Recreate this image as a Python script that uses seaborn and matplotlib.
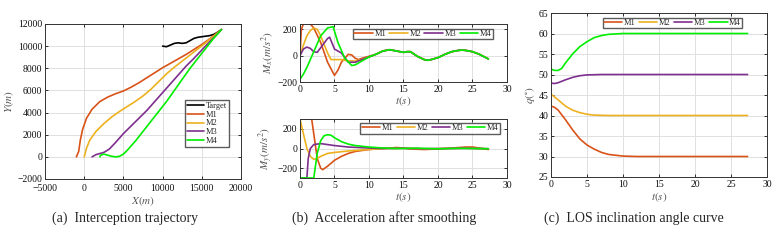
import numpy as np
import pandas as pd
import matplotlib.pyplot as plt
import seaborn as sns

# --- data ---
# (a) trajectories
tgt_x = [10000, 10500, 11000, 11500, 12000, 12500, 13000, 13500, 14000, 14500, 15000, 15500, 16000, 16500, 17000, 17500]
tgt_y = [10000, 9950, 10100, 10250, 10300, 10250, 10300, 10500, 10700, 10800, 10850, 10900, 10950, 11050, 11250, 11500]
m1_x = [-1000, -700, -500, -200, 300, 1000, 2000, 3000, 4000, 5000, 6000, 7000, 8000, 9000, 10000, 11000, 12000, 13000, 14000, 15000, 16000, 17000, 17500]
m1_y = [0, 500, 1500, 2500, 3500, 4300, 5000, 5400, 5700, 5950, 6300, 6700, 7150, 7600, 8050, 8450, 8850, 9250, 9700, 10150, 10650, 11200, 11500]
m2_x = [0, 300, 700, 1500, 2500, 3500, 4500, 5500, 6500, 7500, 8500, 9500, 10500, 11500, 12500, 13500, 14500, 15500, 16500, 17500]
m2_y = [0, 800, 1500, 2300, 3000, 3600, 4100, 4550, 5000, 5500, 6100, 6800, 7500, 8100, 8650, 9200, 9750, 10300, 10900, 11500]
m3_x = [1000, 1500, 2500, 3200, 4000, 5000, 6000, 7000, 8000, 9000, 10000, 11000, 12000, 13000, 14000, 15000, 16000, 17000, 17500]
m3_y = [0, 200, 400, 700, 1300, 2100, 2800, 3500, 4200, 5000, 5800, 6600, 7400, 8200, 8900, 9650, 10400, 11100, 11500]
m4_x = [2000, 2100, 2500, 3000, 3500, 4000, 4500, 5000, 5500, 6500, 7500, 8500, 9500, 10500, 11500, 12500, 13500, 14500, 15500, 16500, 17500]
m4_y = [0, 150, 250, 150, 50, 0, 50, 250, 600, 1400, 2300, 3200, 4100, 5000, 6000, 7000, 8000, 8900, 9800, 10700, 11500]

# (b) accelerations, shared tail after t = 10 s
tail_t = [11, 12, 13, 14, 15, 15.5, 16, 17, 18, 18.5, 19, 20, 21, 22, 23, 23.5, 24, 25, 26, 27.3]
tail_mx = [10, 35, 45, 35, 25, 30, 30, -5, -30, -35, -30, -15, 10, 30, 40, 42, 40, 30, 10, -25]
mx1_t = [0, 0.2, 0.5, 1, 1.5, 2, 3, 4, 5, 5.5, 6, 7, 7.5, 8, 8.5, 9, 10]
mx1 = [0, 200, 240, 250, 240, 210, 100, -50, -150, -110, -50, 10, 5, -20, -30, -20, -5]
mx2_t = [0, 0.5, 1, 1.5, 2, 2.5, 3, 4, 4.5, 5, 6, 7, 8, 9, 10]
mx2 = [0, 80, 150, 190, 210, 200, 150, 20, -30, -30, -30, -40, -40, -30, -10]
mx3_t = [0, 0.5, 1, 1.5, 2, 2.5, 3, 4, 4.3, 5, 6, 7, 8, 9, 10]
mx3 = [0, 50, 65, 55, 30, 25, 60, 130, 140, 50, 20, -50, -50, -30, -10]
mx4_t = [0, 0.5, 1, 2, 3, 4, 4.8, 5.5, 6.5, 7.5, 8, 9, 10]
mx4 = [-180, -140, -90, 30, 150, 210, 220, 100, -20, -75, -70, -40, -10]

my1_t = [0, 0.4, 1.7, 2.5, 3, 3.3, 4, 5, 6, 7, 8, 10, 12, 14, 15, 16, 18, 20, 22, 24, 25, 26, 27.3]
my1 = [400, 300, 300, -100, -200, -215, -180, -120, -80, -50, -30, -10, 0, 10, 5, -5, -10, -5, 5, 15, 15, 5, -10]
my2_t = [0, 0.5, 1, 1.5, 2, 2.5, 3, 4, 5, 7, 10, 12, 15, 18, 21, 24, 27.3]
my2 = [300, 150, 0, -80, -110, -100, -80, -50, -40, -25, -10, 0, 3, -3, 0, 3, -3]
my3_t = [0, 1, 1.2, 1.5, 2, 3, 4, 5, 7, 10, 12, 15, 18, 21, 24, 27.3]
my3 = [-300, -300, -100, 0, 40, 50, 40, 30, 15, 5, 0, 2, -2, 0, 2, -2]
my4_t = [0, 2, 2.5, 3, 3.5, 4, 4.5, 5, 6, 7, 8, 10, 12, 14, 17, 20, 23, 27.3]
my4 = [-300, -300, -50, 80, 130, 140, 135, 110, 70, 45, 30, 15, 5, 0, 3, -3, 2, -2]

# (c) LOS angle
q1_t = [0, 0.5, 1, 2, 3, 4, 5, 6, 7, 8, 10, 12, 27.3]
q1 = [42.3, 42, 41.3, 39, 36.5, 34.3, 32.8, 31.8, 31, 30.5, 30.1, 30, 30]
q2_t = [0, 1, 2, 3, 4, 5, 6, 8, 27.3]
q2 = [45.2, 43.8, 42.3, 41.3, 40.7, 40.3, 40.1, 40, 40]
q3_t = [0, 0.5, 1, 2, 3, 4, 5, 7, 27.3]
q3 = [47.9, 47.8, 48, 48.7, 49.3, 49.7, 49.9, 50, 50]
q4_t = [0, 0.5, 1, 1.5, 2, 3, 4, 5, 6, 7, 8, 10, 27.3]
q4 = [51.3, 51, 51, 51.5, 52.8, 55, 56.8, 58, 59, 59.5, 59.8, 60, 60]

names = ["M1", "M2", "M3", "M4"]
colors = ["#D95319", "#EDB120", "#7E2F8E", "#00EE00"]

sns.set_theme(style="whitegrid")
plt.rcParams['font.family'] = ['Liberation Serif', 'DejaVu Serif']
plt.rcParams['mathtext.fontset'] = 'stix'
plt.rcParams['xtick.direction'] = 'in'
plt.rcParams['ytick.direction'] = 'in'

fig = plt.figure(figsize=(7.83, 2.4), dpi=100)
ax_a = fig.add_axes([0.0575, 0.2542, 0.2503, 0.6458])
ax_b1 = fig.add_axes([0.3831, 0.6583, 0.2644, 0.2417])
ax_b2 = fig.add_axes([0.3831, 0.2583, 0.2644, 0.2458])
ax_c = fig.add_axes([0.7037, 0.2625, 0.2759, 0.6833])


def style(ax):
    ax.set_facecolor("white")
    ax.grid(True, color="#e0e0e0", linewidth=0.7)
    for s in ax.spines.values():
        s.set_visible(True)
        s.set_color("#333333")
        s.set_linewidth(0.7)
    ax.tick_params(labelsize=7, length=2.5, width=0.6, pad=2, colors="#111111",
                   top=True, right=True, left=True, bottom=True,
                   labeltop=False, labelright=False)


def line(ax, x, y, c, label):
    sns.lineplot(x=x, y=y, ax=ax, color=c, lw=1.2, sort=False, estimator=None, label=label)


def leg(ax, anchor, **kw):
    ax.legend(loc="upper right", bbox_to_anchor=anchor, ncol=4, fontsize=6, frameon=True,
              fancybox=False, edgecolor="#333333", handlelength=2.2, handletextpad=0.2,
              columnspacing=0.4, borderpad=0.15, borderaxespad=0, **kw)


# (a)
line(ax_a, tgt_x, tgt_y, "black", "Target")
for xs, ys, c, n in zip([m1_x, m2_x, m3_x, m4_x], [m1_y, m2_y, m3_y, m4_y], colors, names):
    line(ax_a, xs, ys, c, n)
ax_a.set_xlim(-5000, 20000)
ax_a.set_ylim(-2000, 12000)
ax_a.set_xticks(range(-5000, 20001, 5000))
ax_a.set_yticks(range(-2000, 12001, 2000))
ax_a.set_xlabel("$X(m)$", fontsize=8, color="#555555", labelpad=1)
ax_a.set_ylabel("$Y(m)$", fontsize=8, color="#555555", labelpad=1)
style(ax_a)
ax_a.tick_params(axis="x", pad=3.5)
ax_a.legend(loc="lower right", bbox_to_anchor=(0.94, 0.205), fontsize=6, frameon=True,
            fancybox=False, edgecolor="#333333", handlelength=2.0, handletextpad=0.3,
            labelspacing=0.1, borderpad=0.25, borderaxespad=0)

# (b) top
for ts, vs, c, n in zip([mx1_t, mx2_t, mx3_t, mx4_t], [mx1, mx2, mx3, mx4], colors, names):
    line(ax_b1, ts + tail_t, vs + tail_mx, c, n)
ax_b1.set_xlim(0, 30)
ax_b1.set_ylim(-200, 240)
ax_b1.set_yticks([-200, 0, 200])
ax_b1.set_xlabel("$t(s)$", fontsize=8, color="#555555", labelpad=0)
ax_b1.set_ylabel("$M_x(m/s^2)$", fontsize=8, color="#555555", labelpad=1)
style(ax_b1)
leg(ax_b1, (0.93, 0.92))

# (b) bottom
for ts, vs, c, n in zip([my1_t, my2_t, my3_t, my4_t], [my1, my2, my3, my4], colors, names):
    line(ax_b2, ts, vs, c, n)
ax_b2.set_xlim(0, 30)
ax_b2.set_ylim(-300, 300)
ax_b2.set_yticks([-200, 0, 200])
ax_b2.set_xlabel("$t(s)$", fontsize=8, color="#555555", labelpad=0)
ax_b2.set_ylabel("$M_y(m/s^2)$", fontsize=8, color="#555555", labelpad=1)
style(ax_b2)
leg(ax_b2, (0.965, 0.93))

# (c)
for ts, vs, c, n in zip([q1_t, q2_t, q3_t, q4_t], [q1, q2, q3, q4], colors, names):
    line(ax_c, ts, vs, c, n)
ax_c.set_xlim(0, 30)
ax_c.set_ylim(25, 65)
ax_c.set_xticks(range(0, 31, 5))
ax_c.set_yticks(range(25, 66, 5))
ax_c.set_xlabel("$t(s)$", fontsize=8, color="#555555", labelpad=1)
ax_c.set_ylabel(r"$q(^{\circ})$", fontsize=8, color="#555555", labelpad=1)
style(ax_c)
leg(ax_c, (0.885, 0.97))

fig.text(0.16, 0.075, "(a)  Interception trajectory", ha="center", fontsize=10)
fig.text(0.49, 0.075, "(b)  Acceleration after smoothing", ha="center", fontsize=10)
fig.text(0.81, 0.075, "(c)  LOS inclination angle curve", ha="center", fontsize=10)

fig.savefig("out.png", dpi=100, facecolor="white")
